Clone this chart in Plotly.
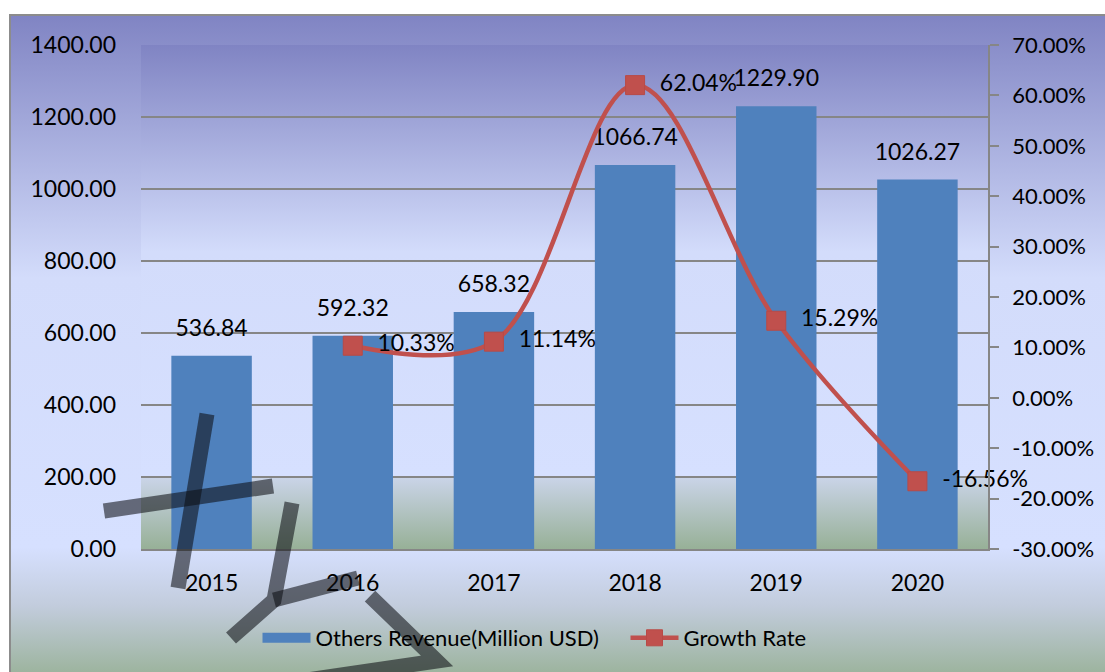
import base64
import plotly.graph_objects as go

# ---------------- data ----------------
years = ["2015", "2016", "2017", "2018", "2019", "2020"]
revenue = [536.84, 592.32, 658.32, 1066.74, 1229.90, 1026.27]
growth_pct = [None, 10.33, 11.14, 62.04, 15.29, -16.56]
growth = [None if g is None else g / 100 for g in growth_pct]

rate_ticks = [-0.3, -0.2, -0.1, 0.0, 0.1, 0.2, 0.3, 0.4, 0.5, 0.6, 0.7]
rate_tick_text = [f"{t * 100:.2f}%" for t in rate_ticks]

bar_name = "Others Revenue(Million USD)"
line_name = "Growth Rate"

# ---------------- layout geometry ----------------
W, H = 1105, 672
ML, MR, MT, MB = 141, 117, 45, 123
PW, PH = W - ML - MR, H - MT - MB

FONT = "Lato, 'Open Sans', sans-serif"
BLUE = "#4f81bd"
RED = "#c0504d"
GRID = "#868686"


def px(x, y=0):
    return (x - ML) / PW, (H - MB - y) / PH


def gradient_uri(stops):
    st = "".join(f"<stop offset='{o}' stop-color='{c}'/>" for o, c in stops)
    svg = ("<svg xmlns='http://www.w3.org/2000/svg' width='100' height='100' "
           "viewBox='0 0 100 100' preserveAspectRatio='none'><defs>"
           "<linearGradient id='g' x1='0' y1='0' x2='0' y2='1'>" + st +
           "</linearGradient></defs><rect x='0' y='0' width='100' height='100' "
           "fill='url(#g)'/></svg>")
    return "data:image/svg+xml;base64," + base64.b64encode(svg.encode()).decode()


outer_bg = gradient_uri([(0, "#8084c3"), (0.40, "#d3dcfb"), (0.81, "#d6e0ff"),
                         (0.90, "#c2ccdc"), (1, "#9db49f")])
plot_bg = gradient_uri([(0, "#8084c3"), (0.41, "#d3dcfb"), (0.855, "#d6e0ff"),
                        (0.858, "#cad4e8"), (1, "#97b097")])

fig = go.Figure()

fig.add_trace(go.Bar(
    x=years, y=revenue, name=bar_name, marker=dict(color=BLUE, line=dict(width=0)),
    yaxis="y", hoverinfo="skip", showlegend=False))

# legend entry for the bars (wide swatch like the original)
fig.add_trace(go.Scatter(
    x=[None], y=[None], mode="lines", name=bar_name, legend="legend",
    line=dict(color=BLUE, width=15), hoverinfo="skip"))

# bar value labels
fig.add_trace(go.Scatter(
    x=years, y=revenue, mode="markers+text", text=[f"{v:.2f}" for v in revenue],
    textposition="top center", marker=dict(size=21, opacity=0), cliponaxis=False,
    textfont=dict(family=FONT, size=23, color="#000000"),
    showlegend=False, hoverinfo="skip", yaxis="y"))

fig.add_trace(go.Scatter(
    x=years, y=growth, name=line_name, mode="lines+markers", yaxis="y2",
    legend="legend2",
    line=dict(color=RED, width=4.5, shape="spline", smoothing=1),
    marker=dict(symbol="square", size=19, color=RED, line=dict(color="#b84a47", width=1)),
    hoverinfo="skip", cliponaxis=False))

# growth labels
fig.add_trace(go.Scatter(
    x=years, y=growth, mode="markers+text", yaxis="y2",
    text=["" if g is None else f"{g:.2f}%" for g in growth_pct],
    textposition="middle right", marker=dict(size=38, opacity=0), cliponaxis=False,
    textfont=dict(family=FONT, size=23, color="#000000"),
    showlegend=False, hoverinfo="skip"))

# ---------------- decorations ----------------
x0, y0 = px(10, 15)
x1, y1 = px(W, H)
images = [
    dict(source=outer_bg, xref="paper", yref="paper", x=x0, y=y0,
         sizex=x1 - x0, sizey=y0 - y1, xanchor="left", yanchor="top",
         sizing="stretch", layer="below"),
    dict(source=plot_bg, xref="paper", yref="paper", x=0, y=1, sizex=1, sizey=1,
         xanchor="left", yanchor="top", sizing="stretch", layer="below"),
]

shapes = []
bx0, by0 = px(10, 15)
bx1, by1 = px(W + 10, H + 10)
shapes.append(dict(type="rect", xref="paper", yref="paper", x0=bx0, y0=by0, x1=bx1, y1=by1,
                   line=dict(color="#8c8c8c", width=2), fillcolor="rgba(0,0,0,0)",
                   layer="below"))

# watermark strokes (pixel coordinates of the decorative logo)
wm_strokes = [
    [(207, 414), (178, 588)],
    [(104, 511), (273, 486)],
    [(292, 503), (274, 600), (231, 638)],
    [(274, 600), (358, 578)],
    [(370, 596), (437, 661), (300, 681)],
]
for stroke in wm_strokes:
    pts = [px(x, y) for x, y in stroke]
    path = "M " + " L ".join(f"{a:.4f},{b:.4f}" for a, b in pts)
    shapes.append(dict(type="path", xref="paper", yref="paper", path=path,
                       line=dict(color="rgba(12,14,20,0.57)", width=15), layer="above"))

legend_common = dict(orientation="h", yanchor="middle", xanchor="left",
                     font=dict(family=FONT, size=22, color="#000000"),
                     bgcolor="rgba(0,0,0,0)", borderwidth=0, itemwidth=48)

fig.update_layout(
    width=W, height=H,
    margin=dict(l=ML, r=MR, t=MT, b=MB, pad=0, autoexpand=False),
    paper_bgcolor="#ffffff",
    plot_bgcolor="rgba(0,0,0,0)",
    font=dict(family=FONT, size=23, color="#000000"),
    bargap=0.43,
    images=images,
    shapes=shapes,
    showlegend=True,
    legend=dict(x=px(257.5)[0], y=px(0, 638)[1], **legend_common),
    legend2=dict(x=px(625.5)[0], y=px(0, 638)[1], **legend_common),
    xaxis=dict(type="category", showgrid=False, showline=True, linecolor=GRID,
               linewidth=1.5, ticks="", ticklabelstandoff=13, automargin=False,
               tickfont=dict(family=FONT, size=23, color="#000000")),
    yaxis=dict(range=[0, 1400], dtick=200, tickformat=".2f", showgrid=True,
               gridcolor=GRID, gridwidth=1.5, showline=False, zeroline=False,
               ticks="", ticklabelstandoff=24, automargin=False,
               tickfont=dict(family=FONT, size=23, color="#000000")),
    yaxis2=dict(overlaying="y", side="right", range=[-0.3, 0.7],
                tickmode="array", tickvals=rate_ticks, ticktext=rate_tick_text,
                showgrid=False, zeroline=False, showline=True, automargin=False,
                linecolor=GRID, linewidth=1.5, ticks="outside", ticklen=9,
                tickcolor=GRID, tickwidth=1.5, ticklabelstandoff=9,
                tickfont=dict(family=FONT, size=22, color="#000000")),
)

fig.write_html("out.html", config={"displayModeBar": False},
               post_script="document.body.style.margin='0';")
